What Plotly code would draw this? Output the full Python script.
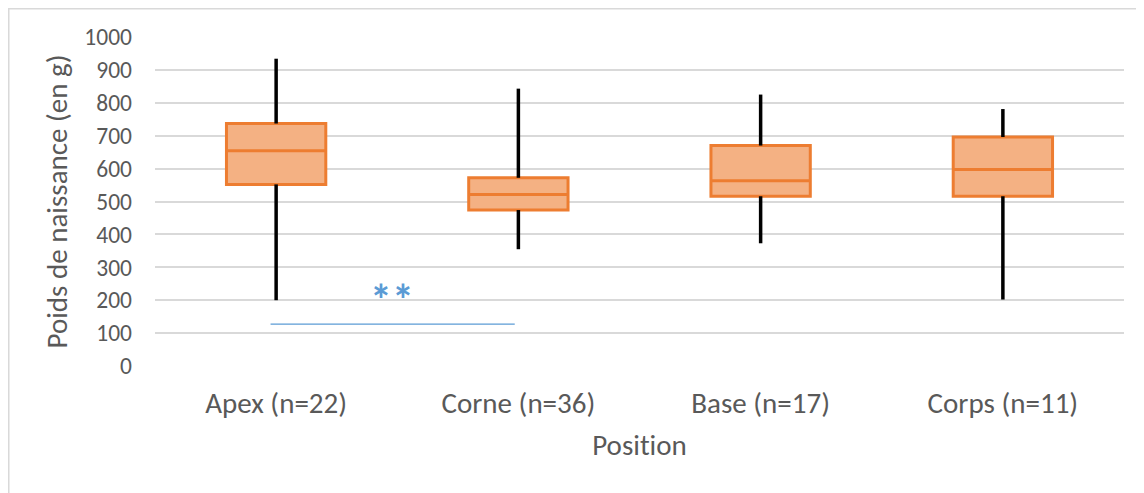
import plotly.graph_objects as go

categories = ["Apex (n=22)", "Corne (n=36)", "Base (n=17)", "Corps (n=11)"]
minimum = [200, 355, 373, 202]
q1 = [552, 474, 516, 516]
median = [654, 521, 563, 597]
q3 = [737, 572, 670, 696]
maximum = [934, 843, 825, 781]

y_ticks = [0, 100, 200, 300, 400, 500, 600, 700, 800, 900, 1000]

# significance bracket between Apex and Corne
sig_x = [-0.023, 0.985]
sig_y = 127
sig_label = "**"
sig_label_x = 0.478
sig_label_y = 200

FONT = "Carlito, Calibri, Lato, sans-serif"
TXT = "#595959"
ORANGE = "#ED7D31"
FILL = "#F4B183"
BLUE = "#5B9BD5"
GRID = "#D9D9D9"

fig = go.Figure()

# whiskers (min -> q1, q3 -> max)
wx, wy = [], []
for c, lo, a, b, hi in zip(categories, minimum, q1, q3, maximum):
    wx += [c, c, None, c, c, None]
    wy += [lo, a, None, b, hi, None]
fig.add_trace(go.Scatter(x=wx, y=wy, mode="lines",
                         line=dict(color="black", width=3.5),
                         hoverinfo="skip", showlegend=False))

fig.add_trace(go.Box(
    x=categories, q1=q1, median=median, q3=q3,
    lowerfence=q1, upperfence=q3,
    width=0.41, whiskerwidth=0,
    fillcolor=FILL, line=dict(color=ORANGE, width=3),
    showlegend=False, hoverinfo="skip",
))

fig.add_shape(type="line", xref="x", yref="y",
              x0=sig_x[0], x1=sig_x[1], y0=sig_y, y1=sig_y,
              line=dict(color=BLUE, width=1.2))
fig.add_annotation(x=sig_label_x, y=sig_label_y, xref="x", yref="y",
                   text="<b>" + sig_label + "</b>", showarrow=False,
                   font=dict(family=FONT, size=44, color=BLUE))

# outer chart border
fig.add_shape(type="rect", xref="paper", yref="paper",
              x0=-0.1509, x1=1.05, y0=-0.5, y1=1.0859,
              line=dict(color=GRID, width=1.5), fillcolor="rgba(0,0,0,0)",
              layer="below")

fig.update_layout(
    width=1144, height=493,
    margin=dict(l=147, r=28, t=29, b=135, autoexpand=False),
    paper_bgcolor="white", plot_bgcolor="white",
    font=dict(family=FONT, color=TXT),
    xaxis=dict(
        type="category", categoryorder="array", categoryarray=categories,
        range=[-0.5, 3.5], showgrid=False, zeroline=False, showline=False,
        ticks="", tickfont=dict(size=29, color=TXT), ticklabelstandoff=17,
        automargin=False,
        title=dict(text="Posit\u200cion", font=dict(size=29, color=TXT), standoff=14),
    ),
    yaxis=dict(
        range=[0, 1000], tickvals=y_ticks, showgrid=True, gridcolor=GRID,
        gridwidth=1.5, zeroline=False, showline=False, ticks="",
        tickfont=dict(size=23.5, color=TXT), ticklabelstandoff=22,
        automargin=False,
        title=dict(text="Poids de naissance (en g)", font=dict(size=29, color=TXT), standoff=8),
    ),
)

fig.write_html("out.html")
